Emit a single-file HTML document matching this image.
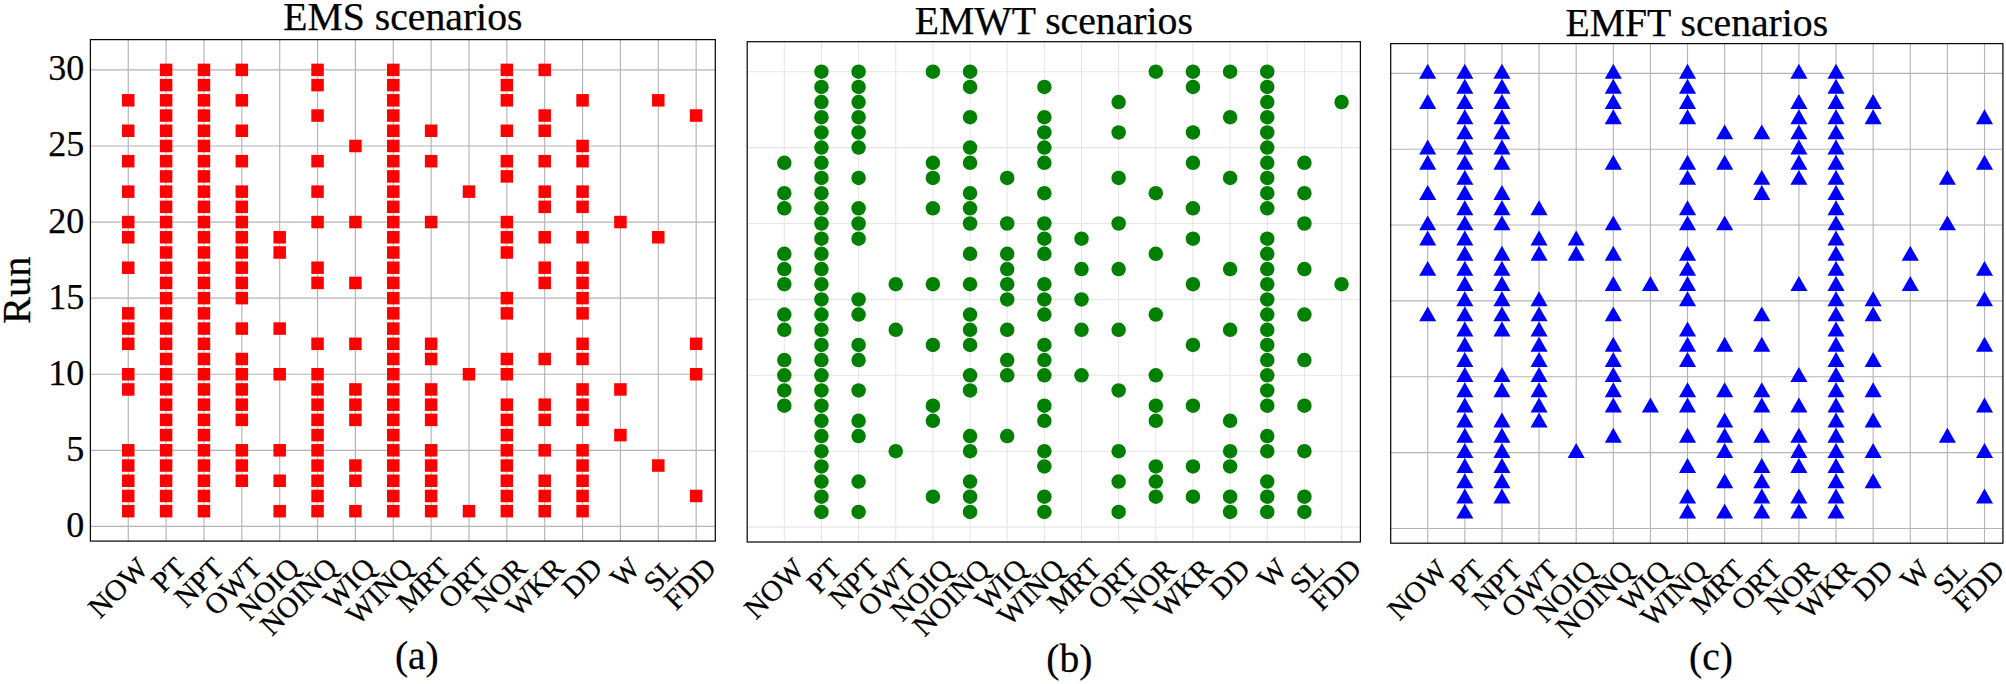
<!DOCTYPE html>
<html><head><meta charset="utf-8"><title>Scenarios</title>
<style>
html,body{margin:0;padding:0;background:#fff}
svg{display:block}
text{font-family:"Liberation Serif",serif;fill:#000;stroke:#000;stroke-width:0.25px}
</style></head><body>
<svg width="2006" height="684" viewBox="0 0 2006 684">
<rect width="2006" height="684" fill="#fff"/>
<g id="panel-a">
<g stroke="#b4b4b4" stroke-width="1.15" fill="none">
<line x1="128.25" y1="39.6" x2="128.25" y2="541.1"/><line x1="166.11" y1="39.6" x2="166.11" y2="541.1"/><line x1="203.97" y1="39.6" x2="203.97" y2="541.1"/><line x1="241.83" y1="39.6" x2="241.83" y2="541.1"/><line x1="279.69" y1="39.6" x2="279.69" y2="541.1"/><line x1="317.55" y1="39.6" x2="317.55" y2="541.1"/><line x1="355.41" y1="39.6" x2="355.41" y2="541.1"/><line x1="393.27" y1="39.6" x2="393.27" y2="541.1"/><line x1="431.13" y1="39.6" x2="431.13" y2="541.1"/><line x1="468.99" y1="39.6" x2="468.99" y2="541.1"/><line x1="506.85" y1="39.6" x2="506.85" y2="541.1"/><line x1="544.71" y1="39.6" x2="544.71" y2="541.1"/><line x1="582.57" y1="39.6" x2="582.57" y2="541.1"/><line x1="620.43" y1="39.6" x2="620.43" y2="541.1"/><line x1="658.29" y1="39.6" x2="658.29" y2="541.1"/><line x1="696.15" y1="39.6" x2="696.15" y2="541.1"/><line x1="90.4" y1="526.40" x2="715.3" y2="526.40"/><line x1="90.4" y1="450.31" x2="715.3" y2="450.31"/><line x1="90.4" y1="374.23" x2="715.3" y2="374.23"/><line x1="90.4" y1="298.14" x2="715.3" y2="298.14"/><line x1="90.4" y1="222.06" x2="715.3" y2="222.06"/><line x1="90.4" y1="145.97" x2="715.3" y2="145.97"/><line x1="90.4" y1="69.89" x2="715.3" y2="69.89"/>
</g>
<g fill="#ff0000">
<rect x="122.00" y="94.07" width="12.5" height="12.5"/><rect x="122.00" y="124.51" width="12.5" height="12.5"/><rect x="122.00" y="154.94" width="12.5" height="12.5"/><rect x="122.00" y="185.38" width="12.5" height="12.5"/><rect x="122.00" y="215.81" width="12.5" height="12.5"/><rect x="122.00" y="231.03" width="12.5" height="12.5"/><rect x="122.00" y="261.46" width="12.5" height="12.5"/><rect x="122.00" y="307.11" width="12.5" height="12.5"/><rect x="122.00" y="322.33" width="12.5" height="12.5"/><rect x="122.00" y="337.55" width="12.5" height="12.5"/><rect x="122.00" y="367.98" width="12.5" height="12.5"/><rect x="122.00" y="383.20" width="12.5" height="12.5"/><rect x="122.00" y="444.06" width="12.5" height="12.5"/><rect x="122.00" y="459.28" width="12.5" height="12.5"/><rect x="122.00" y="474.50" width="12.5" height="12.5"/><rect x="122.00" y="489.72" width="12.5" height="12.5"/><rect x="122.00" y="504.93" width="12.5" height="12.5"/>
<rect x="159.86" y="504.93" width="12.5" height="12.5"/><rect x="159.86" y="489.72" width="12.5" height="12.5"/><rect x="159.86" y="474.50" width="12.5" height="12.5"/><rect x="159.86" y="459.28" width="12.5" height="12.5"/><rect x="159.86" y="444.06" width="12.5" height="12.5"/><rect x="159.86" y="428.85" width="12.5" height="12.5"/><rect x="159.86" y="413.63" width="12.5" height="12.5"/><rect x="159.86" y="398.41" width="12.5" height="12.5"/><rect x="159.86" y="383.20" width="12.5" height="12.5"/><rect x="159.86" y="367.98" width="12.5" height="12.5"/><rect x="159.86" y="352.76" width="12.5" height="12.5"/><rect x="159.86" y="337.55" width="12.5" height="12.5"/><rect x="159.86" y="322.33" width="12.5" height="12.5"/><rect x="159.86" y="307.11" width="12.5" height="12.5"/><rect x="159.86" y="291.89" width="12.5" height="12.5"/><rect x="159.86" y="276.68" width="12.5" height="12.5"/><rect x="159.86" y="261.46" width="12.5" height="12.5"/><rect x="159.86" y="246.24" width="12.5" height="12.5"/><rect x="159.86" y="231.03" width="12.5" height="12.5"/><rect x="159.86" y="215.81" width="12.5" height="12.5"/><rect x="159.86" y="200.59" width="12.5" height="12.5"/><rect x="159.86" y="185.38" width="12.5" height="12.5"/><rect x="159.86" y="170.16" width="12.5" height="12.5"/><rect x="159.86" y="154.94" width="12.5" height="12.5"/><rect x="159.86" y="139.72" width="12.5" height="12.5"/><rect x="159.86" y="124.51" width="12.5" height="12.5"/><rect x="159.86" y="109.29" width="12.5" height="12.5"/><rect x="159.86" y="94.07" width="12.5" height="12.5"/><rect x="159.86" y="78.86" width="12.5" height="12.5"/><rect x="159.86" y="63.64" width="12.5" height="12.5"/>
<rect x="197.72" y="504.93" width="12.5" height="12.5"/><rect x="197.72" y="489.72" width="12.5" height="12.5"/><rect x="197.72" y="474.50" width="12.5" height="12.5"/><rect x="197.72" y="459.28" width="12.5" height="12.5"/><rect x="197.72" y="444.06" width="12.5" height="12.5"/><rect x="197.72" y="428.85" width="12.5" height="12.5"/><rect x="197.72" y="413.63" width="12.5" height="12.5"/><rect x="197.72" y="398.41" width="12.5" height="12.5"/><rect x="197.72" y="383.20" width="12.5" height="12.5"/><rect x="197.72" y="367.98" width="12.5" height="12.5"/><rect x="197.72" y="352.76" width="12.5" height="12.5"/><rect x="197.72" y="337.55" width="12.5" height="12.5"/><rect x="197.72" y="322.33" width="12.5" height="12.5"/><rect x="197.72" y="307.11" width="12.5" height="12.5"/><rect x="197.72" y="291.89" width="12.5" height="12.5"/><rect x="197.72" y="276.68" width="12.5" height="12.5"/><rect x="197.72" y="261.46" width="12.5" height="12.5"/><rect x="197.72" y="246.24" width="12.5" height="12.5"/><rect x="197.72" y="231.03" width="12.5" height="12.5"/><rect x="197.72" y="215.81" width="12.5" height="12.5"/><rect x="197.72" y="200.59" width="12.5" height="12.5"/><rect x="197.72" y="185.38" width="12.5" height="12.5"/><rect x="197.72" y="170.16" width="12.5" height="12.5"/><rect x="197.72" y="154.94" width="12.5" height="12.5"/><rect x="197.72" y="139.72" width="12.5" height="12.5"/><rect x="197.72" y="124.51" width="12.5" height="12.5"/><rect x="197.72" y="109.29" width="12.5" height="12.5"/><rect x="197.72" y="94.07" width="12.5" height="12.5"/><rect x="197.72" y="78.86" width="12.5" height="12.5"/><rect x="197.72" y="63.64" width="12.5" height="12.5"/>
<rect x="235.58" y="63.64" width="12.5" height="12.5"/><rect x="235.58" y="94.07" width="12.5" height="12.5"/><rect x="235.58" y="124.51" width="12.5" height="12.5"/><rect x="235.58" y="154.94" width="12.5" height="12.5"/><rect x="235.58" y="185.38" width="12.5" height="12.5"/><rect x="235.58" y="200.59" width="12.5" height="12.5"/><rect x="235.58" y="215.81" width="12.5" height="12.5"/><rect x="235.58" y="231.03" width="12.5" height="12.5"/><rect x="235.58" y="246.24" width="12.5" height="12.5"/><rect x="235.58" y="261.46" width="12.5" height="12.5"/><rect x="235.58" y="276.68" width="12.5" height="12.5"/><rect x="235.58" y="291.89" width="12.5" height="12.5"/><rect x="235.58" y="322.33" width="12.5" height="12.5"/><rect x="235.58" y="352.76" width="12.5" height="12.5"/><rect x="235.58" y="367.98" width="12.5" height="12.5"/><rect x="235.58" y="383.20" width="12.5" height="12.5"/><rect x="235.58" y="398.41" width="12.5" height="12.5"/><rect x="235.58" y="413.63" width="12.5" height="12.5"/><rect x="235.58" y="444.06" width="12.5" height="12.5"/><rect x="235.58" y="459.28" width="12.5" height="12.5"/><rect x="235.58" y="474.50" width="12.5" height="12.5"/>
<rect x="273.44" y="231.03" width="12.5" height="12.5"/><rect x="273.44" y="246.24" width="12.5" height="12.5"/><rect x="273.44" y="322.33" width="12.5" height="12.5"/><rect x="273.44" y="367.98" width="12.5" height="12.5"/><rect x="273.44" y="444.06" width="12.5" height="12.5"/><rect x="273.44" y="474.50" width="12.5" height="12.5"/><rect x="273.44" y="504.93" width="12.5" height="12.5"/>
<rect x="311.30" y="63.64" width="12.5" height="12.5"/><rect x="311.30" y="78.86" width="12.5" height="12.5"/><rect x="311.30" y="109.29" width="12.5" height="12.5"/><rect x="311.30" y="154.94" width="12.5" height="12.5"/><rect x="311.30" y="185.38" width="12.5" height="12.5"/><rect x="311.30" y="215.81" width="12.5" height="12.5"/><rect x="311.30" y="261.46" width="12.5" height="12.5"/><rect x="311.30" y="276.68" width="12.5" height="12.5"/><rect x="311.30" y="337.55" width="12.5" height="12.5"/><rect x="311.30" y="367.98" width="12.5" height="12.5"/><rect x="311.30" y="383.20" width="12.5" height="12.5"/><rect x="311.30" y="398.41" width="12.5" height="12.5"/><rect x="311.30" y="413.63" width="12.5" height="12.5"/><rect x="311.30" y="428.85" width="12.5" height="12.5"/><rect x="311.30" y="444.06" width="12.5" height="12.5"/><rect x="311.30" y="459.28" width="12.5" height="12.5"/><rect x="311.30" y="474.50" width="12.5" height="12.5"/><rect x="311.30" y="489.72" width="12.5" height="12.5"/><rect x="311.30" y="504.93" width="12.5" height="12.5"/>
<rect x="349.16" y="139.72" width="12.5" height="12.5"/><rect x="349.16" y="215.81" width="12.5" height="12.5"/><rect x="349.16" y="276.68" width="12.5" height="12.5"/><rect x="349.16" y="337.55" width="12.5" height="12.5"/><rect x="349.16" y="383.20" width="12.5" height="12.5"/><rect x="349.16" y="398.41" width="12.5" height="12.5"/><rect x="349.16" y="413.63" width="12.5" height="12.5"/><rect x="349.16" y="459.28" width="12.5" height="12.5"/><rect x="349.16" y="474.50" width="12.5" height="12.5"/><rect x="349.16" y="504.93" width="12.5" height="12.5"/>
<rect x="387.02" y="504.93" width="12.5" height="12.5"/><rect x="387.02" y="489.72" width="12.5" height="12.5"/><rect x="387.02" y="474.50" width="12.5" height="12.5"/><rect x="387.02" y="459.28" width="12.5" height="12.5"/><rect x="387.02" y="444.06" width="12.5" height="12.5"/><rect x="387.02" y="428.85" width="12.5" height="12.5"/><rect x="387.02" y="413.63" width="12.5" height="12.5"/><rect x="387.02" y="398.41" width="12.5" height="12.5"/><rect x="387.02" y="383.20" width="12.5" height="12.5"/><rect x="387.02" y="367.98" width="12.5" height="12.5"/><rect x="387.02" y="352.76" width="12.5" height="12.5"/><rect x="387.02" y="337.55" width="12.5" height="12.5"/><rect x="387.02" y="322.33" width="12.5" height="12.5"/><rect x="387.02" y="307.11" width="12.5" height="12.5"/><rect x="387.02" y="291.89" width="12.5" height="12.5"/><rect x="387.02" y="276.68" width="12.5" height="12.5"/><rect x="387.02" y="261.46" width="12.5" height="12.5"/><rect x="387.02" y="246.24" width="12.5" height="12.5"/><rect x="387.02" y="231.03" width="12.5" height="12.5"/><rect x="387.02" y="215.81" width="12.5" height="12.5"/><rect x="387.02" y="200.59" width="12.5" height="12.5"/><rect x="387.02" y="185.38" width="12.5" height="12.5"/><rect x="387.02" y="170.16" width="12.5" height="12.5"/><rect x="387.02" y="154.94" width="12.5" height="12.5"/><rect x="387.02" y="139.72" width="12.5" height="12.5"/><rect x="387.02" y="124.51" width="12.5" height="12.5"/><rect x="387.02" y="109.29" width="12.5" height="12.5"/><rect x="387.02" y="94.07" width="12.5" height="12.5"/><rect x="387.02" y="78.86" width="12.5" height="12.5"/><rect x="387.02" y="63.64" width="12.5" height="12.5"/>
<rect x="424.88" y="124.51" width="12.5" height="12.5"/><rect x="424.88" y="154.94" width="12.5" height="12.5"/><rect x="424.88" y="215.81" width="12.5" height="12.5"/><rect x="424.88" y="337.55" width="12.5" height="12.5"/><rect x="424.88" y="352.76" width="12.5" height="12.5"/><rect x="424.88" y="383.20" width="12.5" height="12.5"/><rect x="424.88" y="398.41" width="12.5" height="12.5"/><rect x="424.88" y="413.63" width="12.5" height="12.5"/><rect x="424.88" y="444.06" width="12.5" height="12.5"/><rect x="424.88" y="459.28" width="12.5" height="12.5"/><rect x="424.88" y="474.50" width="12.5" height="12.5"/><rect x="424.88" y="489.72" width="12.5" height="12.5"/><rect x="424.88" y="504.93" width="12.5" height="12.5"/>
<rect x="462.74" y="185.38" width="12.5" height="12.5"/><rect x="462.74" y="367.98" width="12.5" height="12.5"/><rect x="462.74" y="504.93" width="12.5" height="12.5"/>
<rect x="500.60" y="63.64" width="12.5" height="12.5"/><rect x="500.60" y="78.86" width="12.5" height="12.5"/><rect x="500.60" y="94.07" width="12.5" height="12.5"/><rect x="500.60" y="124.51" width="12.5" height="12.5"/><rect x="500.60" y="154.94" width="12.5" height="12.5"/><rect x="500.60" y="170.16" width="12.5" height="12.5"/><rect x="500.60" y="215.81" width="12.5" height="12.5"/><rect x="500.60" y="231.03" width="12.5" height="12.5"/><rect x="500.60" y="246.24" width="12.5" height="12.5"/><rect x="500.60" y="291.89" width="12.5" height="12.5"/><rect x="500.60" y="307.11" width="12.5" height="12.5"/><rect x="500.60" y="352.76" width="12.5" height="12.5"/><rect x="500.60" y="367.98" width="12.5" height="12.5"/><rect x="500.60" y="398.41" width="12.5" height="12.5"/><rect x="500.60" y="413.63" width="12.5" height="12.5"/><rect x="500.60" y="428.85" width="12.5" height="12.5"/><rect x="500.60" y="444.06" width="12.5" height="12.5"/><rect x="500.60" y="459.28" width="12.5" height="12.5"/><rect x="500.60" y="474.50" width="12.5" height="12.5"/><rect x="500.60" y="489.72" width="12.5" height="12.5"/><rect x="500.60" y="504.93" width="12.5" height="12.5"/>
<rect x="538.46" y="63.64" width="12.5" height="12.5"/><rect x="538.46" y="109.29" width="12.5" height="12.5"/><rect x="538.46" y="124.51" width="12.5" height="12.5"/><rect x="538.46" y="154.94" width="12.5" height="12.5"/><rect x="538.46" y="185.38" width="12.5" height="12.5"/><rect x="538.46" y="200.59" width="12.5" height="12.5"/><rect x="538.46" y="231.03" width="12.5" height="12.5"/><rect x="538.46" y="261.46" width="12.5" height="12.5"/><rect x="538.46" y="276.68" width="12.5" height="12.5"/><rect x="538.46" y="352.76" width="12.5" height="12.5"/><rect x="538.46" y="398.41" width="12.5" height="12.5"/><rect x="538.46" y="413.63" width="12.5" height="12.5"/><rect x="538.46" y="444.06" width="12.5" height="12.5"/><rect x="538.46" y="474.50" width="12.5" height="12.5"/><rect x="538.46" y="489.72" width="12.5" height="12.5"/><rect x="538.46" y="504.93" width="12.5" height="12.5"/>
<rect x="576.32" y="94.07" width="12.5" height="12.5"/><rect x="576.32" y="139.72" width="12.5" height="12.5"/><rect x="576.32" y="154.94" width="12.5" height="12.5"/><rect x="576.32" y="185.38" width="12.5" height="12.5"/><rect x="576.32" y="200.59" width="12.5" height="12.5"/><rect x="576.32" y="231.03" width="12.5" height="12.5"/><rect x="576.32" y="261.46" width="12.5" height="12.5"/><rect x="576.32" y="276.68" width="12.5" height="12.5"/><rect x="576.32" y="291.89" width="12.5" height="12.5"/><rect x="576.32" y="307.11" width="12.5" height="12.5"/><rect x="576.32" y="337.55" width="12.5" height="12.5"/><rect x="576.32" y="352.76" width="12.5" height="12.5"/><rect x="576.32" y="383.20" width="12.5" height="12.5"/><rect x="576.32" y="398.41" width="12.5" height="12.5"/><rect x="576.32" y="413.63" width="12.5" height="12.5"/><rect x="576.32" y="444.06" width="12.5" height="12.5"/><rect x="576.32" y="459.28" width="12.5" height="12.5"/><rect x="576.32" y="474.50" width="12.5" height="12.5"/><rect x="576.32" y="489.72" width="12.5" height="12.5"/><rect x="576.32" y="504.93" width="12.5" height="12.5"/>
<rect x="614.18" y="215.81" width="12.5" height="12.5"/><rect x="614.18" y="383.20" width="12.5" height="12.5"/><rect x="614.18" y="428.85" width="12.5" height="12.5"/>
<rect x="652.04" y="94.07" width="12.5" height="12.5"/><rect x="652.04" y="231.03" width="12.5" height="12.5"/><rect x="652.04" y="459.28" width="12.5" height="12.5"/>
<rect x="689.90" y="109.29" width="12.5" height="12.5"/><rect x="689.90" y="337.55" width="12.5" height="12.5"/><rect x="689.90" y="367.98" width="12.5" height="12.5"/><rect x="689.90" y="489.72" width="12.5" height="12.5"/>
</g>
<rect x="90.4" y="39.6" width="624.90" height="501.50" fill="none" stroke="#0a0a0a" stroke-width="1.25"/>
<text x="402.85" y="30.3" font-size="39.7" text-anchor="middle">EMS scenarios</text>
<text x="416.85" y="669.4" font-size="39.5" text-anchor="middle">(a)</text>
<g font-size="29.5" text-anchor="end">
<text transform="translate(135.25,555.10) rotate(-45)" x="0" y="0" dy="0.7em">NOW</text><text transform="translate(173.11,555.10) rotate(-45)" x="0" y="0" dy="0.7em">PT</text><text transform="translate(210.97,555.10) rotate(-45)" x="0" y="0" dy="0.7em">NPT</text><text transform="translate(248.83,555.10) rotate(-45)" x="0" y="0" dy="0.7em">OWT</text><text transform="translate(286.69,555.10) rotate(-45)" x="0" y="0" dy="0.7em">NOIQ</text><text transform="translate(324.55,555.10) rotate(-45)" x="0" y="0" dy="0.7em">NOINQ</text><text transform="translate(362.41,555.10) rotate(-45)" x="0" y="0" dy="0.7em">WIQ</text><text transform="translate(400.27,555.10) rotate(-45)" x="0" y="0" dy="0.7em">WINQ</text><text transform="translate(438.13,555.10) rotate(-45)" x="0" y="0" dy="0.7em">MRT</text><text transform="translate(475.99,555.10) rotate(-45)" x="0" y="0" dy="0.7em">ORT</text><text transform="translate(513.85,555.10) rotate(-45)" x="0" y="0" dy="0.7em">NOR</text><text transform="translate(551.71,555.10) rotate(-45)" x="0" y="0" dy="0.7em">WKR</text><text transform="translate(589.57,555.10) rotate(-45)" x="0" y="0" dy="0.7em">DD</text><text transform="translate(627.43,555.10) rotate(-45)" x="0" y="0" dy="0.7em">W</text><text transform="translate(665.29,555.10) rotate(-45)" x="0" y="0" dy="0.7em">SL</text><text transform="translate(703.15,555.10) rotate(-45)" x="0" y="0" dy="0.7em">FDD</text>
</g>
<g font-size="36" text-anchor="end">
<text x="84.2" y="536.90">0</text><text x="84.2" y="460.81">5</text><text x="84.2" y="384.73">10</text><text x="84.2" y="308.64">15</text><text x="84.2" y="232.56">20</text><text x="84.2" y="156.47">25</text><text x="84.2" y="80.39">30</text>
</g>
<text transform="translate(29.9,290.3) rotate(-90)" font-size="40.5" text-anchor="middle">Run</text>
</g>
<g id="panel-b">
<g stroke="#e6e6e6" stroke-width="1.05" fill="none">
<line x1="784.30" y1="41.7" x2="784.30" y2="542.0"/><line x1="821.45" y1="41.7" x2="821.45" y2="542.0"/><line x1="858.60" y1="41.7" x2="858.60" y2="542.0"/><line x1="895.75" y1="41.7" x2="895.75" y2="542.0"/><line x1="932.90" y1="41.7" x2="932.90" y2="542.0"/><line x1="970.05" y1="41.7" x2="970.05" y2="542.0"/><line x1="1007.20" y1="41.7" x2="1007.20" y2="542.0"/><line x1="1044.35" y1="41.7" x2="1044.35" y2="542.0"/><line x1="1081.50" y1="41.7" x2="1081.50" y2="542.0"/><line x1="1118.65" y1="41.7" x2="1118.65" y2="542.0"/><line x1="1155.80" y1="41.7" x2="1155.80" y2="542.0"/><line x1="1192.95" y1="41.7" x2="1192.95" y2="542.0"/><line x1="1230.10" y1="41.7" x2="1230.10" y2="542.0"/><line x1="1267.25" y1="41.7" x2="1267.25" y2="542.0"/><line x1="1304.40" y1="41.7" x2="1304.40" y2="542.0"/><line x1="1341.55" y1="41.7" x2="1341.55" y2="542.0"/><line x1="747.2" y1="527.10" x2="1360.4" y2="527.10"/><line x1="747.2" y1="451.20" x2="1360.4" y2="451.20"/><line x1="747.2" y1="375.30" x2="1360.4" y2="375.30"/><line x1="747.2" y1="299.40" x2="1360.4" y2="299.40"/><line x1="747.2" y1="223.50" x2="1360.4" y2="223.50"/><line x1="747.2" y1="147.60" x2="1360.4" y2="147.60"/><line x1="747.2" y1="71.70" x2="1360.4" y2="71.70"/>
</g>
<g fill="#008000">
<circle cx="784.30" cy="162.78" r="7.25"/><circle cx="784.30" cy="193.14" r="7.25"/><circle cx="784.30" cy="208.32" r="7.25"/><circle cx="784.30" cy="253.86" r="7.25"/><circle cx="784.30" cy="269.04" r="7.25"/><circle cx="784.30" cy="284.22" r="7.25"/><circle cx="784.30" cy="314.58" r="7.25"/><circle cx="784.30" cy="329.76" r="7.25"/><circle cx="784.30" cy="360.12" r="7.25"/><circle cx="784.30" cy="375.30" r="7.25"/><circle cx="784.30" cy="390.48" r="7.25"/><circle cx="784.30" cy="405.66" r="7.25"/>
<circle cx="821.45" cy="511.92" r="7.25"/><circle cx="821.45" cy="496.74" r="7.25"/><circle cx="821.45" cy="481.56" r="7.25"/><circle cx="821.45" cy="466.38" r="7.25"/><circle cx="821.45" cy="451.20" r="7.25"/><circle cx="821.45" cy="436.02" r="7.25"/><circle cx="821.45" cy="420.84" r="7.25"/><circle cx="821.45" cy="405.66" r="7.25"/><circle cx="821.45" cy="390.48" r="7.25"/><circle cx="821.45" cy="375.30" r="7.25"/><circle cx="821.45" cy="360.12" r="7.25"/><circle cx="821.45" cy="344.94" r="7.25"/><circle cx="821.45" cy="329.76" r="7.25"/><circle cx="821.45" cy="314.58" r="7.25"/><circle cx="821.45" cy="299.40" r="7.25"/><circle cx="821.45" cy="284.22" r="7.25"/><circle cx="821.45" cy="269.04" r="7.25"/><circle cx="821.45" cy="253.86" r="7.25"/><circle cx="821.45" cy="238.68" r="7.25"/><circle cx="821.45" cy="223.50" r="7.25"/><circle cx="821.45" cy="208.32" r="7.25"/><circle cx="821.45" cy="193.14" r="7.25"/><circle cx="821.45" cy="177.96" r="7.25"/><circle cx="821.45" cy="162.78" r="7.25"/><circle cx="821.45" cy="147.60" r="7.25"/><circle cx="821.45" cy="132.42" r="7.25"/><circle cx="821.45" cy="117.24" r="7.25"/><circle cx="821.45" cy="102.06" r="7.25"/><circle cx="821.45" cy="86.88" r="7.25"/><circle cx="821.45" cy="71.70" r="7.25"/>
<circle cx="858.60" cy="71.70" r="7.25"/><circle cx="858.60" cy="86.88" r="7.25"/><circle cx="858.60" cy="102.06" r="7.25"/><circle cx="858.60" cy="117.24" r="7.25"/><circle cx="858.60" cy="132.42" r="7.25"/><circle cx="858.60" cy="147.60" r="7.25"/><circle cx="858.60" cy="177.96" r="7.25"/><circle cx="858.60" cy="208.32" r="7.25"/><circle cx="858.60" cy="223.50" r="7.25"/><circle cx="858.60" cy="238.68" r="7.25"/><circle cx="858.60" cy="299.40" r="7.25"/><circle cx="858.60" cy="314.58" r="7.25"/><circle cx="858.60" cy="344.94" r="7.25"/><circle cx="858.60" cy="360.12" r="7.25"/><circle cx="858.60" cy="390.48" r="7.25"/><circle cx="858.60" cy="420.84" r="7.25"/><circle cx="858.60" cy="436.02" r="7.25"/><circle cx="858.60" cy="481.56" r="7.25"/><circle cx="858.60" cy="511.92" r="7.25"/>
<circle cx="895.75" cy="284.22" r="7.25"/><circle cx="895.75" cy="329.76" r="7.25"/><circle cx="895.75" cy="451.20" r="7.25"/>
<circle cx="932.90" cy="71.70" r="7.25"/><circle cx="932.90" cy="162.78" r="7.25"/><circle cx="932.90" cy="177.96" r="7.25"/><circle cx="932.90" cy="208.32" r="7.25"/><circle cx="932.90" cy="284.22" r="7.25"/><circle cx="932.90" cy="344.94" r="7.25"/><circle cx="932.90" cy="405.66" r="7.25"/><circle cx="932.90" cy="420.84" r="7.25"/><circle cx="932.90" cy="496.74" r="7.25"/>
<circle cx="970.05" cy="71.70" r="7.25"/><circle cx="970.05" cy="86.88" r="7.25"/><circle cx="970.05" cy="117.24" r="7.25"/><circle cx="970.05" cy="147.60" r="7.25"/><circle cx="970.05" cy="162.78" r="7.25"/><circle cx="970.05" cy="193.14" r="7.25"/><circle cx="970.05" cy="208.32" r="7.25"/><circle cx="970.05" cy="223.50" r="7.25"/><circle cx="970.05" cy="253.86" r="7.25"/><circle cx="970.05" cy="284.22" r="7.25"/><circle cx="970.05" cy="314.58" r="7.25"/><circle cx="970.05" cy="329.76" r="7.25"/><circle cx="970.05" cy="344.94" r="7.25"/><circle cx="970.05" cy="375.30" r="7.25"/><circle cx="970.05" cy="390.48" r="7.25"/><circle cx="970.05" cy="436.02" r="7.25"/><circle cx="970.05" cy="451.20" r="7.25"/><circle cx="970.05" cy="481.56" r="7.25"/><circle cx="970.05" cy="496.74" r="7.25"/><circle cx="970.05" cy="511.92" r="7.25"/>
<circle cx="1007.20" cy="177.96" r="7.25"/><circle cx="1007.20" cy="223.50" r="7.25"/><circle cx="1007.20" cy="253.86" r="7.25"/><circle cx="1007.20" cy="269.04" r="7.25"/><circle cx="1007.20" cy="284.22" r="7.25"/><circle cx="1007.20" cy="299.40" r="7.25"/><circle cx="1007.20" cy="329.76" r="7.25"/><circle cx="1007.20" cy="360.12" r="7.25"/><circle cx="1007.20" cy="375.30" r="7.25"/><circle cx="1007.20" cy="436.02" r="7.25"/>
<circle cx="1044.35" cy="86.88" r="7.25"/><circle cx="1044.35" cy="117.24" r="7.25"/><circle cx="1044.35" cy="132.42" r="7.25"/><circle cx="1044.35" cy="147.60" r="7.25"/><circle cx="1044.35" cy="162.78" r="7.25"/><circle cx="1044.35" cy="193.14" r="7.25"/><circle cx="1044.35" cy="223.50" r="7.25"/><circle cx="1044.35" cy="238.68" r="7.25"/><circle cx="1044.35" cy="253.86" r="7.25"/><circle cx="1044.35" cy="284.22" r="7.25"/><circle cx="1044.35" cy="299.40" r="7.25"/><circle cx="1044.35" cy="314.58" r="7.25"/><circle cx="1044.35" cy="344.94" r="7.25"/><circle cx="1044.35" cy="360.12" r="7.25"/><circle cx="1044.35" cy="375.30" r="7.25"/><circle cx="1044.35" cy="405.66" r="7.25"/><circle cx="1044.35" cy="420.84" r="7.25"/><circle cx="1044.35" cy="451.20" r="7.25"/><circle cx="1044.35" cy="466.38" r="7.25"/><circle cx="1044.35" cy="496.74" r="7.25"/><circle cx="1044.35" cy="511.92" r="7.25"/>
<circle cx="1081.50" cy="238.68" r="7.25"/><circle cx="1081.50" cy="269.04" r="7.25"/><circle cx="1081.50" cy="299.40" r="7.25"/><circle cx="1081.50" cy="329.76" r="7.25"/><circle cx="1081.50" cy="375.30" r="7.25"/>
<circle cx="1118.65" cy="102.06" r="7.25"/><circle cx="1118.65" cy="132.42" r="7.25"/><circle cx="1118.65" cy="177.96" r="7.25"/><circle cx="1118.65" cy="223.50" r="7.25"/><circle cx="1118.65" cy="269.04" r="7.25"/><circle cx="1118.65" cy="329.76" r="7.25"/><circle cx="1118.65" cy="390.48" r="7.25"/><circle cx="1118.65" cy="451.20" r="7.25"/><circle cx="1118.65" cy="481.56" r="7.25"/><circle cx="1118.65" cy="511.92" r="7.25"/>
<circle cx="1155.80" cy="71.70" r="7.25"/><circle cx="1155.80" cy="193.14" r="7.25"/><circle cx="1155.80" cy="253.86" r="7.25"/><circle cx="1155.80" cy="314.58" r="7.25"/><circle cx="1155.80" cy="375.30" r="7.25"/><circle cx="1155.80" cy="405.66" r="7.25"/><circle cx="1155.80" cy="420.84" r="7.25"/><circle cx="1155.80" cy="466.38" r="7.25"/><circle cx="1155.80" cy="481.56" r="7.25"/><circle cx="1155.80" cy="496.74" r="7.25"/>
<circle cx="1192.95" cy="71.70" r="7.25"/><circle cx="1192.95" cy="86.88" r="7.25"/><circle cx="1192.95" cy="132.42" r="7.25"/><circle cx="1192.95" cy="162.78" r="7.25"/><circle cx="1192.95" cy="208.32" r="7.25"/><circle cx="1192.95" cy="238.68" r="7.25"/><circle cx="1192.95" cy="284.22" r="7.25"/><circle cx="1192.95" cy="344.94" r="7.25"/><circle cx="1192.95" cy="405.66" r="7.25"/><circle cx="1192.95" cy="466.38" r="7.25"/><circle cx="1192.95" cy="496.74" r="7.25"/>
<circle cx="1230.10" cy="71.70" r="7.25"/><circle cx="1230.10" cy="117.24" r="7.25"/><circle cx="1230.10" cy="177.96" r="7.25"/><circle cx="1230.10" cy="269.04" r="7.25"/><circle cx="1230.10" cy="329.76" r="7.25"/><circle cx="1230.10" cy="420.84" r="7.25"/><circle cx="1230.10" cy="451.20" r="7.25"/><circle cx="1230.10" cy="466.38" r="7.25"/><circle cx="1230.10" cy="496.74" r="7.25"/><circle cx="1230.10" cy="511.92" r="7.25"/>
<circle cx="1267.25" cy="208.32" r="7.25"/><circle cx="1267.25" cy="193.14" r="7.25"/><circle cx="1267.25" cy="177.96" r="7.25"/><circle cx="1267.25" cy="162.78" r="7.25"/><circle cx="1267.25" cy="147.60" r="7.25"/><circle cx="1267.25" cy="132.42" r="7.25"/><circle cx="1267.25" cy="117.24" r="7.25"/><circle cx="1267.25" cy="102.06" r="7.25"/><circle cx="1267.25" cy="86.88" r="7.25"/><circle cx="1267.25" cy="71.70" r="7.25"/><circle cx="1267.25" cy="405.66" r="7.25"/><circle cx="1267.25" cy="390.48" r="7.25"/><circle cx="1267.25" cy="375.30" r="7.25"/><circle cx="1267.25" cy="360.12" r="7.25"/><circle cx="1267.25" cy="344.94" r="7.25"/><circle cx="1267.25" cy="329.76" r="7.25"/><circle cx="1267.25" cy="314.58" r="7.25"/><circle cx="1267.25" cy="299.40" r="7.25"/><circle cx="1267.25" cy="284.22" r="7.25"/><circle cx="1267.25" cy="269.04" r="7.25"/><circle cx="1267.25" cy="253.86" r="7.25"/><circle cx="1267.25" cy="238.68" r="7.25"/><circle cx="1267.25" cy="436.02" r="7.25"/><circle cx="1267.25" cy="451.20" r="7.25"/><circle cx="1267.25" cy="481.56" r="7.25"/><circle cx="1267.25" cy="496.74" r="7.25"/><circle cx="1267.25" cy="511.92" r="7.25"/>
<circle cx="1304.40" cy="162.78" r="7.25"/><circle cx="1304.40" cy="193.14" r="7.25"/><circle cx="1304.40" cy="223.50" r="7.25"/><circle cx="1304.40" cy="269.04" r="7.25"/><circle cx="1304.40" cy="314.58" r="7.25"/><circle cx="1304.40" cy="360.12" r="7.25"/><circle cx="1304.40" cy="405.66" r="7.25"/><circle cx="1304.40" cy="451.20" r="7.25"/><circle cx="1304.40" cy="496.74" r="7.25"/><circle cx="1304.40" cy="511.92" r="7.25"/>
<circle cx="1341.55" cy="102.06" r="7.25"/><circle cx="1341.55" cy="284.22" r="7.25"/>
</g>
<rect x="747.2" y="41.7" width="613.20" height="500.30" fill="none" stroke="#0a0a0a" stroke-width="1.25"/>
<text x="1053.80" y="34.3" font-size="39.7" text-anchor="middle">EMWT scenarios</text>
<text x="1069.30" y="671.6" font-size="39.5" text-anchor="middle">(b)</text>
<g font-size="29.5" text-anchor="end">
<text transform="translate(791.30,556.00) rotate(-45)" x="0" y="0" dy="0.7em">NOW</text><text transform="translate(828.45,556.00) rotate(-45)" x="0" y="0" dy="0.7em">PT</text><text transform="translate(865.60,556.00) rotate(-45)" x="0" y="0" dy="0.7em">NPT</text><text transform="translate(902.75,556.00) rotate(-45)" x="0" y="0" dy="0.7em">OWT</text><text transform="translate(939.90,556.00) rotate(-45)" x="0" y="0" dy="0.7em">NOIQ</text><text transform="translate(977.05,556.00) rotate(-45)" x="0" y="0" dy="0.7em">NOINQ</text><text transform="translate(1014.20,556.00) rotate(-45)" x="0" y="0" dy="0.7em">WIQ</text><text transform="translate(1051.35,556.00) rotate(-45)" x="0" y="0" dy="0.7em">WINQ</text><text transform="translate(1088.50,556.00) rotate(-45)" x="0" y="0" dy="0.7em">MRT</text><text transform="translate(1125.65,556.00) rotate(-45)" x="0" y="0" dy="0.7em">ORT</text><text transform="translate(1162.80,556.00) rotate(-45)" x="0" y="0" dy="0.7em">NOR</text><text transform="translate(1199.95,556.00) rotate(-45)" x="0" y="0" dy="0.7em">WKR</text><text transform="translate(1237.10,556.00) rotate(-45)" x="0" y="0" dy="0.7em">DD</text><text transform="translate(1274.25,556.00) rotate(-45)" x="0" y="0" dy="0.7em">W</text><text transform="translate(1311.40,556.00) rotate(-45)" x="0" y="0" dy="0.7em">SL</text><text transform="translate(1348.55,556.00) rotate(-45)" x="0" y="0" dy="0.7em">FDD</text>
</g>
</g>
<g id="panel-c">
<g stroke="#b4b4b4" stroke-width="1.1" fill="none">
<line x1="1427.70" y1="43.6" x2="1427.70" y2="543.2"/><line x1="1464.82" y1="43.6" x2="1464.82" y2="543.2"/><line x1="1501.94" y1="43.6" x2="1501.94" y2="543.2"/><line x1="1539.06" y1="43.6" x2="1539.06" y2="543.2"/><line x1="1576.18" y1="43.6" x2="1576.18" y2="543.2"/><line x1="1613.30" y1="43.6" x2="1613.30" y2="543.2"/><line x1="1650.42" y1="43.6" x2="1650.42" y2="543.2"/><line x1="1687.54" y1="43.6" x2="1687.54" y2="543.2"/><line x1="1724.66" y1="43.6" x2="1724.66" y2="543.2"/><line x1="1761.78" y1="43.6" x2="1761.78" y2="543.2"/><line x1="1798.90" y1="43.6" x2="1798.90" y2="543.2"/><line x1="1836.02" y1="43.6" x2="1836.02" y2="543.2"/><line x1="1873.14" y1="43.6" x2="1873.14" y2="543.2"/><line x1="1910.26" y1="43.6" x2="1910.26" y2="543.2"/><line x1="1947.38" y1="43.6" x2="1947.38" y2="543.2"/><line x1="1984.50" y1="43.6" x2="1984.50" y2="543.2"/><line x1="1390.7" y1="528.45" x2="2002.9" y2="528.45"/><line x1="1390.7" y1="452.60" x2="2002.9" y2="452.60"/><line x1="1390.7" y1="376.75" x2="2002.9" y2="376.75"/><line x1="1390.7" y1="300.90" x2="2002.9" y2="300.90"/><line x1="1390.7" y1="225.05" x2="2002.9" y2="225.05"/><line x1="1390.7" y1="149.20" x2="2002.9" y2="149.20"/><line x1="1390.7" y1="73.35" x2="2002.9" y2="73.35"/>
</g>
<g fill="#0000ff">
<polygon points="1427.70,63.70 1419.15,78.65 1436.25,78.65"/><polygon points="1427.70,94.04 1419.15,108.99 1436.25,108.99"/><polygon points="1427.70,139.55 1419.15,154.50 1436.25,154.50"/><polygon points="1427.70,154.72 1419.15,169.67 1436.25,169.67"/><polygon points="1427.70,185.06 1419.15,200.01 1436.25,200.01"/><polygon points="1427.70,215.40 1419.15,230.35 1436.25,230.35"/><polygon points="1427.70,230.57 1419.15,245.52 1436.25,245.52"/><polygon points="1427.70,260.91 1419.15,275.86 1436.25,275.86"/><polygon points="1427.70,306.42 1419.15,321.37 1436.25,321.37"/>
<polygon points="1464.82,503.63 1456.27,518.58 1473.37,518.58"/><polygon points="1464.82,488.46 1456.27,503.41 1473.37,503.41"/><polygon points="1464.82,473.29 1456.27,488.24 1473.37,488.24"/><polygon points="1464.82,458.12 1456.27,473.07 1473.37,473.07"/><polygon points="1464.82,442.95 1456.27,457.90 1473.37,457.90"/><polygon points="1464.82,427.78 1456.27,442.73 1473.37,442.73"/><polygon points="1464.82,412.61 1456.27,427.56 1473.37,427.56"/><polygon points="1464.82,397.44 1456.27,412.39 1473.37,412.39"/><polygon points="1464.82,382.27 1456.27,397.22 1473.37,397.22"/><polygon points="1464.82,367.10 1456.27,382.05 1473.37,382.05"/><polygon points="1464.82,351.93 1456.27,366.88 1473.37,366.88"/><polygon points="1464.82,336.76 1456.27,351.71 1473.37,351.71"/><polygon points="1464.82,321.59 1456.27,336.54 1473.37,336.54"/><polygon points="1464.82,306.42 1456.27,321.37 1473.37,321.37"/><polygon points="1464.82,291.25 1456.27,306.20 1473.37,306.20"/><polygon points="1464.82,276.08 1456.27,291.03 1473.37,291.03"/><polygon points="1464.82,260.91 1456.27,275.86 1473.37,275.86"/><polygon points="1464.82,245.74 1456.27,260.69 1473.37,260.69"/><polygon points="1464.82,230.57 1456.27,245.52 1473.37,245.52"/><polygon points="1464.82,215.40 1456.27,230.35 1473.37,230.35"/><polygon points="1464.82,200.23 1456.27,215.18 1473.37,215.18"/><polygon points="1464.82,185.06 1456.27,200.01 1473.37,200.01"/><polygon points="1464.82,169.89 1456.27,184.84 1473.37,184.84"/><polygon points="1464.82,154.72 1456.27,169.67 1473.37,169.67"/><polygon points="1464.82,139.55 1456.27,154.50 1473.37,154.50"/><polygon points="1464.82,124.38 1456.27,139.33 1473.37,139.33"/><polygon points="1464.82,109.21 1456.27,124.16 1473.37,124.16"/><polygon points="1464.82,94.04 1456.27,108.99 1473.37,108.99"/><polygon points="1464.82,78.87 1456.27,93.82 1473.37,93.82"/><polygon points="1464.82,63.70 1456.27,78.65 1473.37,78.65"/>
<polygon points="1501.94,63.70 1493.39,78.65 1510.49,78.65"/><polygon points="1501.94,78.87 1493.39,93.82 1510.49,93.82"/><polygon points="1501.94,94.04 1493.39,108.99 1510.49,108.99"/><polygon points="1501.94,109.21 1493.39,124.16 1510.49,124.16"/><polygon points="1501.94,124.38 1493.39,139.33 1510.49,139.33"/><polygon points="1501.94,139.55 1493.39,154.50 1510.49,154.50"/><polygon points="1501.94,154.72 1493.39,169.67 1510.49,169.67"/><polygon points="1501.94,185.06 1493.39,200.01 1510.49,200.01"/><polygon points="1501.94,200.23 1493.39,215.18 1510.49,215.18"/><polygon points="1501.94,215.40 1493.39,230.35 1510.49,230.35"/><polygon points="1501.94,245.74 1493.39,260.69 1510.49,260.69"/><polygon points="1501.94,260.91 1493.39,275.86 1510.49,275.86"/><polygon points="1501.94,276.08 1493.39,291.03 1510.49,291.03"/><polygon points="1501.94,291.25 1493.39,306.20 1510.49,306.20"/><polygon points="1501.94,306.42 1493.39,321.37 1510.49,321.37"/><polygon points="1501.94,321.59 1493.39,336.54 1510.49,336.54"/><polygon points="1501.94,367.10 1493.39,382.05 1510.49,382.05"/><polygon points="1501.94,382.27 1493.39,397.22 1510.49,397.22"/><polygon points="1501.94,412.61 1493.39,427.56 1510.49,427.56"/><polygon points="1501.94,427.78 1493.39,442.73 1510.49,442.73"/><polygon points="1501.94,442.95 1493.39,457.90 1510.49,457.90"/><polygon points="1501.94,458.12 1493.39,473.07 1510.49,473.07"/><polygon points="1501.94,473.29 1493.39,488.24 1510.49,488.24"/><polygon points="1501.94,488.46 1493.39,503.41 1510.49,503.41"/>
<polygon points="1539.06,200.23 1530.51,215.18 1547.61,215.18"/><polygon points="1539.06,230.57 1530.51,245.52 1547.61,245.52"/><polygon points="1539.06,245.74 1530.51,260.69 1547.61,260.69"/><polygon points="1539.06,291.25 1530.51,306.20 1547.61,306.20"/><polygon points="1539.06,306.42 1530.51,321.37 1547.61,321.37"/><polygon points="1539.06,321.59 1530.51,336.54 1547.61,336.54"/><polygon points="1539.06,336.76 1530.51,351.71 1547.61,351.71"/><polygon points="1539.06,351.93 1530.51,366.88 1547.61,366.88"/><polygon points="1539.06,367.10 1530.51,382.05 1547.61,382.05"/><polygon points="1539.06,382.27 1530.51,397.22 1547.61,397.22"/><polygon points="1539.06,397.44 1530.51,412.39 1547.61,412.39"/><polygon points="1539.06,412.61 1530.51,427.56 1547.61,427.56"/>
<polygon points="1576.18,230.57 1567.63,245.52 1584.73,245.52"/><polygon points="1576.18,245.74 1567.63,260.69 1584.73,260.69"/><polygon points="1576.18,442.95 1567.63,457.90 1584.73,457.90"/>
<polygon points="1613.30,63.70 1604.75,78.65 1621.85,78.65"/><polygon points="1613.30,78.87 1604.75,93.82 1621.85,93.82"/><polygon points="1613.30,94.04 1604.75,108.99 1621.85,108.99"/><polygon points="1613.30,109.21 1604.75,124.16 1621.85,124.16"/><polygon points="1613.30,154.72 1604.75,169.67 1621.85,169.67"/><polygon points="1613.30,215.40 1604.75,230.35 1621.85,230.35"/><polygon points="1613.30,245.74 1604.75,260.69 1621.85,260.69"/><polygon points="1613.30,276.08 1604.75,291.03 1621.85,291.03"/><polygon points="1613.30,306.42 1604.75,321.37 1621.85,321.37"/><polygon points="1613.30,336.76 1604.75,351.71 1621.85,351.71"/><polygon points="1613.30,351.93 1604.75,366.88 1621.85,366.88"/><polygon points="1613.30,367.10 1604.75,382.05 1621.85,382.05"/><polygon points="1613.30,382.27 1604.75,397.22 1621.85,397.22"/><polygon points="1613.30,397.44 1604.75,412.39 1621.85,412.39"/><polygon points="1613.30,427.78 1604.75,442.73 1621.85,442.73"/>
<polygon points="1650.42,276.08 1641.87,291.03 1658.97,291.03"/><polygon points="1650.42,397.44 1641.87,412.39 1658.97,412.39"/>
<polygon points="1687.54,63.70 1678.99,78.65 1696.09,78.65"/><polygon points="1687.54,78.87 1678.99,93.82 1696.09,93.82"/><polygon points="1687.54,94.04 1678.99,108.99 1696.09,108.99"/><polygon points="1687.54,109.21 1678.99,124.16 1696.09,124.16"/><polygon points="1687.54,154.72 1678.99,169.67 1696.09,169.67"/><polygon points="1687.54,169.89 1678.99,184.84 1696.09,184.84"/><polygon points="1687.54,200.23 1678.99,215.18 1696.09,215.18"/><polygon points="1687.54,215.40 1678.99,230.35 1696.09,230.35"/><polygon points="1687.54,245.74 1678.99,260.69 1696.09,260.69"/><polygon points="1687.54,260.91 1678.99,275.86 1696.09,275.86"/><polygon points="1687.54,276.08 1678.99,291.03 1696.09,291.03"/><polygon points="1687.54,291.25 1678.99,306.20 1696.09,306.20"/><polygon points="1687.54,321.59 1678.99,336.54 1696.09,336.54"/><polygon points="1687.54,336.76 1678.99,351.71 1696.09,351.71"/><polygon points="1687.54,351.93 1678.99,366.88 1696.09,366.88"/><polygon points="1687.54,382.27 1678.99,397.22 1696.09,397.22"/><polygon points="1687.54,397.44 1678.99,412.39 1696.09,412.39"/><polygon points="1687.54,427.78 1678.99,442.73 1696.09,442.73"/><polygon points="1687.54,458.12 1678.99,473.07 1696.09,473.07"/><polygon points="1687.54,488.46 1678.99,503.41 1696.09,503.41"/><polygon points="1687.54,503.63 1678.99,518.58 1696.09,518.58"/>
<polygon points="1724.66,124.38 1716.11,139.33 1733.21,139.33"/><polygon points="1724.66,154.72 1716.11,169.67 1733.21,169.67"/><polygon points="1724.66,215.40 1716.11,230.35 1733.21,230.35"/><polygon points="1724.66,336.76 1716.11,351.71 1733.21,351.71"/><polygon points="1724.66,382.27 1716.11,397.22 1733.21,397.22"/><polygon points="1724.66,412.61 1716.11,427.56 1733.21,427.56"/><polygon points="1724.66,427.78 1716.11,442.73 1733.21,442.73"/><polygon points="1724.66,442.95 1716.11,457.90 1733.21,457.90"/><polygon points="1724.66,473.29 1716.11,488.24 1733.21,488.24"/><polygon points="1724.66,503.63 1716.11,518.58 1733.21,518.58"/>
<polygon points="1761.78,124.38 1753.23,139.33 1770.33,139.33"/><polygon points="1761.78,169.89 1753.23,184.84 1770.33,184.84"/><polygon points="1761.78,185.06 1753.23,200.01 1770.33,200.01"/><polygon points="1761.78,306.42 1753.23,321.37 1770.33,321.37"/><polygon points="1761.78,336.76 1753.23,351.71 1770.33,351.71"/><polygon points="1761.78,382.27 1753.23,397.22 1770.33,397.22"/><polygon points="1761.78,397.44 1753.23,412.39 1770.33,412.39"/><polygon points="1761.78,427.78 1753.23,442.73 1770.33,442.73"/><polygon points="1761.78,458.12 1753.23,473.07 1770.33,473.07"/><polygon points="1761.78,473.29 1753.23,488.24 1770.33,488.24"/><polygon points="1761.78,488.46 1753.23,503.41 1770.33,503.41"/><polygon points="1761.78,503.63 1753.23,518.58 1770.33,518.58"/>
<polygon points="1798.90,63.70 1790.35,78.65 1807.45,78.65"/><polygon points="1798.90,94.04 1790.35,108.99 1807.45,108.99"/><polygon points="1798.90,109.21 1790.35,124.16 1807.45,124.16"/><polygon points="1798.90,124.38 1790.35,139.33 1807.45,139.33"/><polygon points="1798.90,139.55 1790.35,154.50 1807.45,154.50"/><polygon points="1798.90,154.72 1790.35,169.67 1807.45,169.67"/><polygon points="1798.90,169.89 1790.35,184.84 1807.45,184.84"/><polygon points="1798.90,276.08 1790.35,291.03 1807.45,291.03"/><polygon points="1798.90,367.10 1790.35,382.05 1807.45,382.05"/><polygon points="1798.90,397.44 1790.35,412.39 1807.45,412.39"/><polygon points="1798.90,427.78 1790.35,442.73 1807.45,442.73"/><polygon points="1798.90,442.95 1790.35,457.90 1807.45,457.90"/><polygon points="1798.90,458.12 1790.35,473.07 1807.45,473.07"/><polygon points="1798.90,488.46 1790.35,503.41 1807.45,503.41"/><polygon points="1798.90,503.63 1790.35,518.58 1807.45,518.58"/>
<polygon points="1836.02,503.63 1827.47,518.58 1844.57,518.58"/><polygon points="1836.02,488.46 1827.47,503.41 1844.57,503.41"/><polygon points="1836.02,473.29 1827.47,488.24 1844.57,488.24"/><polygon points="1836.02,458.12 1827.47,473.07 1844.57,473.07"/><polygon points="1836.02,442.95 1827.47,457.90 1844.57,457.90"/><polygon points="1836.02,427.78 1827.47,442.73 1844.57,442.73"/><polygon points="1836.02,412.61 1827.47,427.56 1844.57,427.56"/><polygon points="1836.02,397.44 1827.47,412.39 1844.57,412.39"/><polygon points="1836.02,382.27 1827.47,397.22 1844.57,397.22"/><polygon points="1836.02,367.10 1827.47,382.05 1844.57,382.05"/><polygon points="1836.02,351.93 1827.47,366.88 1844.57,366.88"/><polygon points="1836.02,336.76 1827.47,351.71 1844.57,351.71"/><polygon points="1836.02,321.59 1827.47,336.54 1844.57,336.54"/><polygon points="1836.02,306.42 1827.47,321.37 1844.57,321.37"/><polygon points="1836.02,291.25 1827.47,306.20 1844.57,306.20"/><polygon points="1836.02,276.08 1827.47,291.03 1844.57,291.03"/><polygon points="1836.02,260.91 1827.47,275.86 1844.57,275.86"/><polygon points="1836.02,245.74 1827.47,260.69 1844.57,260.69"/><polygon points="1836.02,230.57 1827.47,245.52 1844.57,245.52"/><polygon points="1836.02,215.40 1827.47,230.35 1844.57,230.35"/><polygon points="1836.02,200.23 1827.47,215.18 1844.57,215.18"/><polygon points="1836.02,185.06 1827.47,200.01 1844.57,200.01"/><polygon points="1836.02,169.89 1827.47,184.84 1844.57,184.84"/><polygon points="1836.02,154.72 1827.47,169.67 1844.57,169.67"/><polygon points="1836.02,139.55 1827.47,154.50 1844.57,154.50"/><polygon points="1836.02,124.38 1827.47,139.33 1844.57,139.33"/><polygon points="1836.02,109.21 1827.47,124.16 1844.57,124.16"/><polygon points="1836.02,94.04 1827.47,108.99 1844.57,108.99"/><polygon points="1836.02,78.87 1827.47,93.82 1844.57,93.82"/><polygon points="1836.02,63.70 1827.47,78.65 1844.57,78.65"/>
<polygon points="1873.14,94.04 1864.59,108.99 1881.69,108.99"/><polygon points="1873.14,109.21 1864.59,124.16 1881.69,124.16"/><polygon points="1873.14,291.25 1864.59,306.20 1881.69,306.20"/><polygon points="1873.14,306.42 1864.59,321.37 1881.69,321.37"/><polygon points="1873.14,351.93 1864.59,366.88 1881.69,366.88"/><polygon points="1873.14,382.27 1864.59,397.22 1881.69,397.22"/><polygon points="1873.14,412.61 1864.59,427.56 1881.69,427.56"/><polygon points="1873.14,442.95 1864.59,457.90 1881.69,457.90"/><polygon points="1873.14,473.29 1864.59,488.24 1881.69,488.24"/>
<polygon points="1910.26,245.74 1901.71,260.69 1918.81,260.69"/><polygon points="1910.26,276.08 1901.71,291.03 1918.81,291.03"/>
<polygon points="1947.38,169.89 1938.83,184.84 1955.93,184.84"/><polygon points="1947.38,215.40 1938.83,230.35 1955.93,230.35"/><polygon points="1947.38,427.78 1938.83,442.73 1955.93,442.73"/>
<polygon points="1984.50,109.21 1975.95,124.16 1993.05,124.16"/><polygon points="1984.50,154.72 1975.95,169.67 1993.05,169.67"/><polygon points="1984.50,260.91 1975.95,275.86 1993.05,275.86"/><polygon points="1984.50,291.25 1975.95,306.20 1993.05,306.20"/><polygon points="1984.50,336.76 1975.95,351.71 1993.05,351.71"/><polygon points="1984.50,397.44 1975.95,412.39 1993.05,412.39"/><polygon points="1984.50,442.95 1975.95,457.90 1993.05,457.90"/><polygon points="1984.50,488.46 1975.95,503.41 1993.05,503.41"/>
</g>
<rect x="1390.7" y="43.6" width="612.20" height="499.60" fill="none" stroke="#0a0a0a" stroke-width="1.25"/>
<text x="1696.80" y="36.4" font-size="39.7" text-anchor="middle">EMFT scenarios</text>
<text x="1711.00" y="670.0" font-size="39.5" text-anchor="middle">(c)</text>
<g font-size="29.5" text-anchor="end">
<text transform="translate(1434.70,557.20) rotate(-45)" x="0" y="0" dy="0.7em">NOW</text><text transform="translate(1471.82,557.20) rotate(-45)" x="0" y="0" dy="0.7em">PT</text><text transform="translate(1508.94,557.20) rotate(-45)" x="0" y="0" dy="0.7em">NPT</text><text transform="translate(1546.06,557.20) rotate(-45)" x="0" y="0" dy="0.7em">OWT</text><text transform="translate(1583.18,557.20) rotate(-45)" x="0" y="0" dy="0.7em">NOIQ</text><text transform="translate(1620.30,557.20) rotate(-45)" x="0" y="0" dy="0.7em">NOINQ</text><text transform="translate(1657.42,557.20) rotate(-45)" x="0" y="0" dy="0.7em">WIQ</text><text transform="translate(1694.54,557.20) rotate(-45)" x="0" y="0" dy="0.7em">WINQ</text><text transform="translate(1731.66,557.20) rotate(-45)" x="0" y="0" dy="0.7em">MRT</text><text transform="translate(1768.78,557.20) rotate(-45)" x="0" y="0" dy="0.7em">ORT</text><text transform="translate(1805.90,557.20) rotate(-45)" x="0" y="0" dy="0.7em">NOR</text><text transform="translate(1843.02,557.20) rotate(-45)" x="0" y="0" dy="0.7em">WKR</text><text transform="translate(1880.14,557.20) rotate(-45)" x="0" y="0" dy="0.7em">DD</text><text transform="translate(1917.26,557.20) rotate(-45)" x="0" y="0" dy="0.7em">W</text><text transform="translate(1954.38,557.20) rotate(-45)" x="0" y="0" dy="0.7em">SL</text><text transform="translate(1991.50,557.20) rotate(-45)" x="0" y="0" dy="0.7em">FDD</text>
</g>
</g>
</svg>
</body></html>
